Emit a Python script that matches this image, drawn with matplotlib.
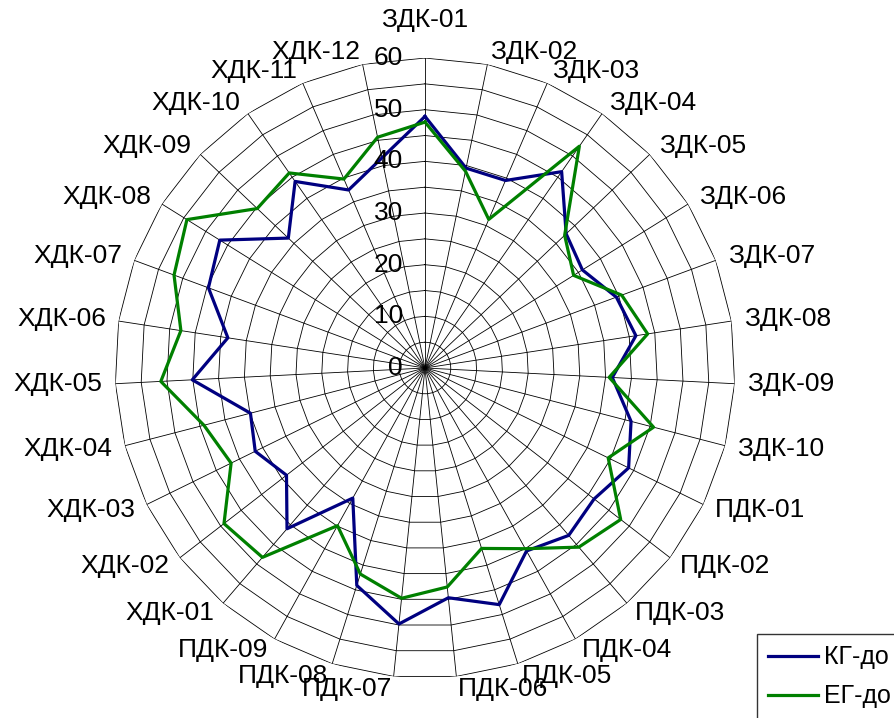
import numpy as np
import matplotlib.pyplot as plt

plt.rcParams['font.family'] = ['Liberation Sans', 'DejaVu Sans']

categories = (["ЗДК-%02d" % i for i in range(1, 11)] +
              ["ПДК-%02d" % i for i in range(1, 10)] +
              ["ХДК-%02d" % i for i in range(1, 13)])

kg_do = [48.7, 39.5, 39.5, 46.3, 37.7, 35.9, 39.5, 41.3, 36.3, 41.2,
         43.9, 41.4, 42.7, 40.5, 48.0, 44.7, 49.8, 44.1, 28.8,
         41.0, 33.9, 36.6, 34.9, 45.1, 38.6, 44.7, 46.8, 36.5, 44.0, 37.5, 41.5]
eg_do = [47.6, 38.9, 31.3, 52.3, 37.3, 33.9, 40.6, 43.6, 35.7, 45.7,
         39.5, 47.9, 45.7, 40.0, 36.6, 42.6, 44.8, 41.8, 34.9,
         48.3, 49.2, 41.8, 44.2, 51.2, 47.8, 51.8, 54.3, 44.8, 46.0, 39.8, 45.6]

rticks = [0, 10, 20, 30, 40, 50, 60]

n = len(categories)
ang = np.arange(n) * 2 * np.pi / n
closed = np.append(ang, ang[0])

fig = plt.figure(figsize=(8.95, 7.18), dpi=100)
ax = fig.add_axes([0.1285, 0.0557, 0.6927, 0.8635], projection='polar')
ax.set_theta_zero_location('N')
ax.set_theta_direction(-1)
ax.set_ylim(0, 60)
ax.grid(False)
ax.spines['polar'].set_visible(False)
ax.set_xticks([])
ax.set_yticks([])

# polygon grid like excel
for r in range(5, 61, 5):
    ax.plot(closed, [r] * (n + 1), color='black', lw=0.6, zorder=1)
for a in ang:
    ax.plot([a, a], [0, 60], color='black', lw=0.6, zorder=1)

ax.plot(closed, kg_do + kg_do[:1], color='#000080', lw=2.3, label='КГ-до', zorder=3)
ax.plot(closed, eg_do + eg_do[:1], color='#008000', lw=2.3, label='ЕГ-до', zorder=3)

for v in rticks:
    ax.annotate(str(v), xy=(0, v), xytext=(-16, 0), textcoords='offset points',
                ha='right', va='center', fontsize=19)

for a, lab in zip(ang, categories):
    s = np.sin(a)
    if abs(s) < 0.05:
        ax.text(a, 65, lab, ha='center', va='bottom', fontsize=19)
        continue
    ha = 'left' if s > 0 else 'right'
    ax.text(a, 62.5, lab, ha=ha, va='center', fontsize=19)

leg = fig.legend(loc='upper left', bbox_to_anchor=(757 / 895, 1 - 634 / 718),
                 fontsize=18, frameon=True, fancybox=False, edgecolor='black',
                 handlelength=2.0, labelspacing=0.6, borderaxespad=0,
                 handletextpad=0.25, borderpad=0.45)
leg.get_frame().set_linewidth(1.0)

fig.savefig('out.png', dpi=100)
